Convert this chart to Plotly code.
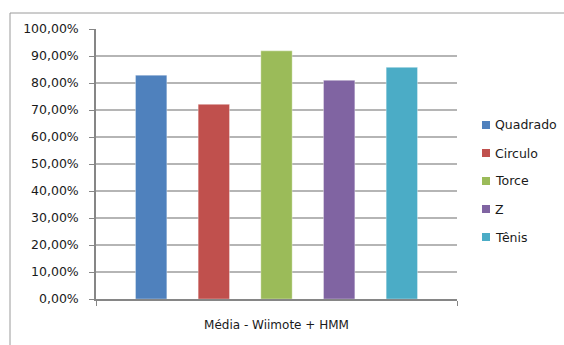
import plotly.graph_objects as go

categories = ["Média - Wiimote + HMM"]
series_names = ["Quadrado", "Circulo", "Torce", "Z", "Tênis"]
series_values = [0.829, 0.721, 0.919, 0.810, 0.858]
colors = ["#4F81BD", "#C0504D", "#9BBB59", "#8064A2", "#4BACC6"]
y_ticks = [i / 10 for i in range(11)]

W, H = 564, 345
ML, MR, MT, MB = 96, 107, 29, 46
PW, PH = W - ML - MR, H - MT - MB

def px_x(x):
    return (x - ML) / PW

def px_y(y):
    return (H - MB - y) / PH

FONT = "DejaVu Sans"

fig = go.Figure()
for name, val, col in zip(series_names, series_values, colors):
    fig.add_trace(go.Bar(
        x=categories, y=[val], name=name,
        marker=dict(color=col, line=dict(color="rgba(255,255,255,0.35)", width=1)),
        showlegend=False,
    ))

shapes = [dict(type="rect", xref="paper", yref="paper",
               x0=px_x(10), x1=px_x(600), y0=px_y(400), y1=px_y(13),
               line=dict(color="#9a9a9a", width=1), fillcolor="rgba(0,0,0,0)", layer="below")]
annotations = []
for i, (name, col) in enumerate(zip(series_names, colors)):
    yc = 125 + 28 * i
    shapes.append(dict(type="rect", xref="paper", yref="paper",
                       xsizemode="pixel", ysizemode="pixel",
                       xanchor=px_x(486), yanchor=px_y(yc),
                       x0=-4, x1=4, y0=-4, y1=4,
                       fillcolor=col, line=dict(width=0)))
    annotations.append(dict(xref="paper", yref="paper", x=px_x(493), y=px_y(yc),
                            text=name, showarrow=False, xanchor="left", yanchor="middle",
                            font=dict(family=FONT, size=12.5, color="#1a1a1a")))

fig.update_layout(
    width=W, height=H,
    margin=dict(l=ML, r=MR, t=MT, b=MB),
    paper_bgcolor="white", plot_bgcolor="white",
    barmode="group", bargap=0.132, bargroupgap=0.5,
    separators=",.",
    font=dict(family=FONT, size=12, color="#1a1a1a"),
    shapes=shapes, annotations=annotations,
    showlegend=False,
)
fig.update_yaxes(
    range=[0, 1], tickvals=y_ticks, tickformat=".2%",
    showgrid=True, gridcolor="#b5b5b5", gridwidth=1.5,
    showline=True, linecolor="#868686", linewidth=1.5,
    ticks="outside", ticklen=5, tickcolor="#868686",
    zeroline=False, ticklabelstandoff=8,
    tickfont=dict(family=FONT, size=12.5, color="#1a1a1a"),
)
fig.update_xaxes(
    showline=True, linecolor="#868686", linewidth=1.5,
    ticks="outside", tickson="boundaries", ticklen=5, tickcolor="#868686",
    ticklabelstandoff=14,
    tickfont=dict(family=FONT, size=12, color="#1a1a1a"),
)

fig.write_html("out.html")
